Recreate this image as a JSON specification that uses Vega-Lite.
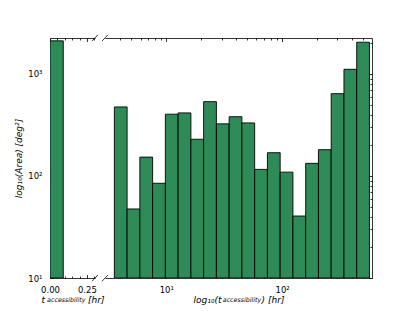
{
  "$schema": "https://vega.github.io/schema/vega-lite/v6.json",
  "background": "white",
  "padding": {"left": 14, "top": 34, "right": 5, "bottom": 5},
  "bounds": "flush",
  "spacing": 10,
  "config": {
    "view": {"stroke": null},
    "axis": {
      "domainColor": "black", "tickColor": "black", "labelColor": "black", "titleColor": "black",
      "labelFont": "DejaVu Sans", "titleFont": "DejaVu Sans", "labelFontSize": 8.5, "titleFontSize": 9,
      "titleFontWeight": "normal", "grid": false, "domainWidth": 0.8, "tickWidth": 0.8, "labelOverlap": false,
      "labelFlush": false
    },
    "title": {"font": "DejaVu Sans", "fontSize": 6.3, "fontStyle": "italic", "fontWeight": "normal", "color": "black"}
  },
  "datasets": {
    "left": [{"lo": 0, "hi": 0.09, "area": 2110}],
    "right": [
      {"lo": 3.565, "hi": 4.593, "area": 475},
      {"lo": 4.593, "hi": 5.918, "area": 47.5},
      {"lo": 5.918, "hi": 7.627, "area": 153},
      {"lo": 7.627, "hi": 9.827, "area": 84.8},
      {"lo": 9.827, "hi": 12.66, "area": 403},
      {"lo": 12.66, "hi": 16.32, "area": 415},
      {"lo": 16.32, "hi": 21.02, "area": 229},
      {"lo": 21.02, "hi": 27.09, "area": 535},
      {"lo": 27.09, "hi": 34.91, "area": 324},
      {"lo": 34.91, "hi": 44.98, "area": 381},
      {"lo": 44.98, "hi": 57.96, "area": 331},
      {"lo": 57.96, "hi": 74.68, "area": 116},
      {"lo": 74.68, "hi": 96.23, "area": 169},
      {"lo": 96.23, "hi": 124.0, "area": 109},
      {"lo": 124.0, "hi": 159.8, "area": 40.5},
      {"lo": 159.8, "hi": 205.9, "area": 133},
      {"lo": 205.9, "hi": 265.3, "area": 181},
      {"lo": 265.3, "hi": 341.9, "area": 641},
      {"lo": 341.9, "hi": 440.5, "area": 1110},
      {"lo": 440.5, "hi": 567.5, "area": 2046}
    ]
  },
  "hconcat": [
    {
      "width": 45,
      "height": 240,
      "data": {"name": "left"},
      "title": {"text": "accessibility", "orient": "bottom", "anchor": "middle", "dx": -6.2, "dy": -7, "offset": 0},
      "layer": [
        {
          "mark": {"type": "bar", "fill": "#2e8b57", "stroke": "black", "strokeWidth": 0.9, "clip": true},
          "encoding": {
            "x": {
              "field": "lo", "type": "quantitative",
              "scale": {"domain": [0, 0.305], "nice": false, "zero": false},
              "axis": {
                "orient": "bottom", "values": [0, 0.05, 0.1, 0.15, 0.2, 0.25, 0.3],
                "labelExpr": "datum.value == 0 ? '0.00' : (datum.value == 0.25 ? '0.25' : '')",
                "tickSize": {"condition": {"test": "datum.value == 0 || datum.value == 0.25", "value": -3.5}, "value": -2},
                "labelPadding": 10.5,
                "title": "t\u00a0\u00a0\u00a0\u00a0\u00a0\u00a0\u00a0\u00a0\u00a0\u00a0\u00a0\u00a0\u00a0\u00a0\u00a0[hr]",
                "titleFontStyle": "italic", "titlePadding": 0
              }
            },
            "x2": {"field": "hi"},
            "y": {
              "field": "area", "type": "quantitative",
              "scale": {"type": "log", "domain": [10, 2250], "nice": false},
              "axis": {
                "orient": "left",
                "values": [10, 20, 30, 40, 50, 60, 70, 80, 90, 100, 200, 300, 400, 500, 600, 700, 800, 900, 1000, 2000],
                "labelExpr": "datum.value == 10 ? '10¹' : (datum.value == 100 ? '10²' : (datum.value == 1000 ? '10³' : ''))",
                "tickSize": {"condition": {"test": "datum.value == 10 || datum.value == 100 || datum.value == 1000", "value": -3.5}, "value": -2},
                "labelPadding": 11.5,
                "title": "log₁₀(Area) [deg²]",
                "titleFontStyle": "italic", "titlePadding": 4.5
              }
            },
            "y2": {"datum": 10}
          }
        },
        {
          "data": {"values": [{}]},
          "mark": {"type": "rule", "color": "black", "strokeWidth": 0.8},
          "encoding": {
            "x": {
              "datum": 0.285, "type": "quantitative",
              "axis": {
                "orient": "top", "values": [0, 0.05, 0.1, 0.15, 0.2, 0.25, 0.3], "labels": false, "title": null,
                "tickSize": {"condition": {"test": "datum.value == 0 || datum.value == 0.25", "value": -3.5}, "value": -2}
              }
            },
            "x2": {"datum": 0.325},
            "y": {"datum": 2100, "type": "quantitative", "axis": null},
            "y2": {"datum": 2420}
          }
        },
        {
          "data": {"values": [{}]},
          "mark": {"type": "rule", "color": "black", "strokeWidth": 0.8},
          "encoding": {
            "x": {"datum": 0.285, "type": "quantitative", "axis": null},
            "x2": {"datum": 0.325},
            "y": {"datum": 9.3, "type": "quantitative", "axis": null},
            "y2": {"datum": 10.7}
          }
        }
      ],
      "resolve": {"axis": {"x": "independent", "y": "independent"}}
    },
    {
      "width": 267,
      "height": 240,
      "data": {"name": "right"},
      "title": {"text": "accessibility", "orient": "bottom", "anchor": "middle", "dx": 3.5, "dy": -7, "offset": 0},
      "layer": [
        {
          "mark": {"type": "bar", "fill": "#2e8b57", "stroke": "black", "strokeWidth": 0.9, "clip": true},
          "encoding": {
            "x": {
              "field": "lo", "type": "quantitative",
              "scale": {"type": "log", "domain": [2.96, 597], "nice": false},
              "axis": {
                "orient": "bottom", "values": [4, 5, 6, 7, 8, 9, 10, 20, 30, 40, 50, 60, 70, 80, 90, 100, 200, 300, 400, 500],
                "labelExpr": "datum.value == 10 ? '10¹' : (datum.value == 100 ? '10²' : '')",
                "tickSize": {"condition": {"test": "datum.value == 10 || datum.value == 100", "value": -3.5}, "value": -2},
                "labelPadding": 10.5,
                "title": "log₁₀(t\u00a0\u00a0\u00a0\u00a0\u00a0\u00a0\u00a0\u00a0\u00a0\u00a0\u00a0\u00a0\u00a0\u00a0) [hr]",
                "titleFontStyle": "italic", "titlePadding": 0
              }
            },
            "x2": {"field": "hi"},
            "y": {
              "field": "area", "type": "quantitative",
              "scale": {"type": "log", "domain": [10, 2250], "nice": false},
              "axis": null
            },
            "y2": {"datum": 10}
          }
        },
        {
          "data": {"values": [{}]},
          "mark": {"type": "rule", "color": "black", "strokeWidth": 0.8},
          "encoding": {
            "x": {
              "datum": 2.79, "type": "quantitative",
              "axis": {
                "orient": "top", "values": [4, 5, 6, 7, 8, 9, 10, 20, 30, 40, 50, 60, 70, 80, 90, 100, 200, 300, 400, 500], "labels": false, "title": null,
                "tickSize": {"condition": {"test": "datum.value == 10 || datum.value == 100", "value": -3.5}, "value": -2}
              }
            },
            "x2": {"datum": 3.14},
            "y": {
              "datum": 2100, "type": "quantitative",
              "axis": {
                "orient": "right",
                "values": [10, 20, 30, 40, 50, 60, 70, 80, 90, 100, 200, 300, 400, 500, 600, 700, 800, 900, 1000, 2000],
                "labels": false, "title": null,
                "tickSize": {"condition": {"test": "datum.value == 10 || datum.value == 100 || datum.value == 1000", "value": -3.5}, "value": -2}
              }
            },
            "y2": {"datum": 2420}
          }
        },
        {
          "data": {"values": [{}]},
          "mark": {"type": "rule", "color": "black", "strokeWidth": 0.8},
          "encoding": {
            "x": {"datum": 2.79, "type": "quantitative", "axis": null},
            "x2": {"datum": 3.14},
            "y": {"datum": 9.3, "type": "quantitative", "axis": null},
            "y2": {"datum": 10.7}
          }
        }
      ],
      "resolve": {"axis": {"x": "independent", "y": "independent"}}
    }
  ]
}
